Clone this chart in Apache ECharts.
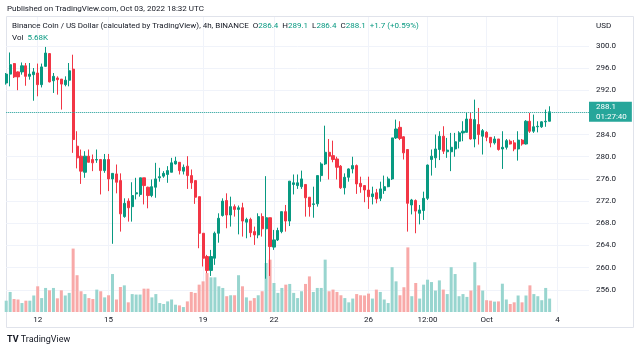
<!DOCTYPE html>
<html>
<head>
<meta charset="utf-8">
<script src="https://cdn.jsdelivr.net/npm/echarts@6.0.0/dist/echarts.min.js"></script>
<style>
  html, body { margin: 0; padding: 0; background: #ffffff; }
  #chart { width: 640px; height: 352px; }
</style>
</head>
<body>
<div id="chart"></div>
<script>
// BNB/USD 4h candles, Sep 10 16:00 -> Oct 03 16:00
const opens = [293.3,294.9,296.8,295.3,295.3,296.4,294.5,294.8,295.1,293.0,296.3,298.6,293.7,294.2,294.0,293.0,293.8,295.8,281.9,280.1,
  277.2,280.1,279.5,279.4,279.5,277.5,279.5,276.0,276.9,275.7,269.2,272.0,271.0,273.3,273.2,276.2,274.5,273.0,274.5,276.2,
  276.5,276.8,277.2,278.7,279.0,277.4,278.3,276.6,275.7,272.8,266.2,262.0,259.5,261.7,266.2,269.4,272.1,269.5,271.0,270.5,
  270.8,268.2,268.7,266.5,265.9,269.2,267.0,269.0,263.7,265.0,266.5,270.1,268.4,275.0,274.8,274.6,275.0,272.7,271.4,271.5,
  276.6,278.7,280.8,280.2,279.6,278.3,274.4,276.3,277.8,278.4,275.2,274.8,274.0,272.8,273.5,272.5,273.9,274.6,276.0,283.4,
  285.3,283.6,281.3,271.3,272.1,269.8,270.3,272.5,279.5,279.8,281.3,283.7,280.9,280.9,281.4,282.8,284.3,284.4,286.8,283.2,
  285.8,283.7,284.4,283.5,282.5,283.2,281.4,281.7,282.8,282.5,281.4,283.0,282.3,286.4,284.6,285.4,285.4,286.3,286.4];
const closes = [294.9,296.6,294.4,294.4,296.4,294.5,294.9,295.3,293.0,296.2,298.7,293.5,294.5,293.9,293.1,293.8,295.5,283.1,279.8,277.4,
  280.1,279.0,278.9,279.5,277.5,279.5,276.0,277.0,275.4,269.7,271.6,270.8,273.0,273.5,276.2,274.8,273.0,274.6,276.0,276.4,
  277.0,277.5,278.9,279.2,277.5,278.1,276.6,275.3,272.7,266.2,261.7,259.5,262.0,266.2,268.9,272.0,269.5,271.0,270.5,270.8,
  268.4,268.7,266.3,265.9,269.2,267.0,269.0,263.8,265.0,266.7,270.1,268.4,275.6,275.3,275.3,276.0,272.6,271.0,271.5,276.6,
  278.7,280.8,280.1,279.5,278.1,274.4,276.3,277.8,278.4,275.1,274.6,274.0,272.8,273.3,272.4,274.2,274.6,276.0,283.4,285.0,
  283.3,280.7,271.6,272.2,270.2,270.4,272.5,278.5,280.1,281.4,283.7,281.0,281.2,281.7,282.7,284.3,284.6,286.8,283.2,286.7,
  284.0,284.7,283.5,282.5,283.2,281.3,281.7,282.9,282.3,281.4,283.0,282.3,286.4,284.6,285.4,285.5,286.3,286.4,288.1];
const lows = [293.0,292.7,294.2,292.0,294.8,292.8,293.9,290.1,290.9,292.5,296.2,293.4,291.5,291.2,288.5,292.7,292.7,280.7,277.9,275.1,
  276.2,279.0,277.4,278.9,273.2,277.1,273.8,264.3,273.4,266.5,269.0,268.3,268.3,272.3,272.8,271.4,270.7,272.7,272.6,275.5,
  276.2,275.3,277.2,278.6,276.8,276.8,274.2,274.2,271.5,263.5,260.2,259.0,258.5,260.5,264.5,269.2,267.1,267.4,269.2,266.0,
  265.6,265.3,265.5,264.1,265.3,265.6,258.0,258.5,263.2,264.8,266.2,266.5,267.5,273.2,274.2,274.2,269.2,269.2,269.0,271.0,
  275.5,278.5,275.9,279.0,275.9,274.2,273.2,275.5,277.0,273.3,273.5,271.8,270.6,271.4,271.6,272.0,273.3,274.5,275.8,283.2,
  283.0,279.5,266.5,269.6,266.2,267.8,268.6,272.2,276.6,278.0,279.4,280.5,279.8,277.4,280.0,281.5,282.8,284.4,283.1,281.7,
  282.2,280.4,282.8,281.7,282.2,281.1,277.8,281.3,282.2,281.0,279.3,282.0,282.2,284.3,284.3,284.4,285.2,285.4,286.4];
const highs = [295.1,298.8,296.9,295.4,297.0,296.9,296.9,296.0,296.8,296.8,299.8,298.7,295.1,294.5,294.0,294.5,296.9,298.4,284.6,281.3,
  281.0,281.3,280.4,281.3,279.6,280.5,280.5,277.0,278.6,277.0,272.5,272.5,275.4,276.2,276.2,276.2,274.6,275.9,278.9,278.0,
  277.4,278.3,279.8,280.0,279.0,278.6,280.1,277.7,275.7,272.8,266.2,262.3,263.2,266.5,269.8,272.5,273.4,272.8,271.4,271.2,
  271.7,269.0,269.0,267.4,269.8,269.8,276.5,269.0,266.8,267.2,270.1,271.3,275.6,276.8,276.8,277.5,275.0,272.7,274.6,276.6,
  279.0,285.6,283.2,282.9,280.0,278.5,277.0,277.9,280.0,278.6,276.4,274.9,276.4,274.6,274.2,275.5,276.6,276.4,283.4,286.7,
  286.4,283.7,281.3,272.4,272.3,271.3,273.7,278.6,281.3,284.0,284.6,285.5,283.4,284.3,284.3,284.6,286.4,287.9,287.9,290.3,
  288.8,285.0,284.6,283.5,283.7,283.2,284.6,283.2,283.1,283.0,284.6,283.2,286.6,287.9,287.6,286.4,286.4,288.5,289.1];
// volume, thousands of BNB
const volumes = [4.8,8.5,5.5,5.3,3.8,4.8,4.8,7.0,10.9,5.9,10.2,9.2,10.2,5.8,9.2,7.0,8.1,26.9,15.6,8.8,
  7.6,5.9,5.5,9.5,8.8,6.2,7.1,16.1,5.3,10.6,11.3,4.1,7.6,7.4,7.4,9.9,9.9,6.2,7.6,3.8,
  3.4,4.5,5.3,3.1,2.8,2.1,4.5,8.5,8.1,11.6,13.0,16.5,14.7,14.7,10.9,10.2,6.7,7.1,7.1,15.6,
  10.9,6.2,4.8,5.9,7.1,8.8,20.8,22.2,12.3,8.1,10.2,11.6,11.9,8.1,5.9,8.8,11.9,15.1,8.5,10.2,
  10.2,22.2,8.8,9.5,8.5,7.1,5.9,4.1,5.7,7.6,7.1,7.0,7.8,5.7,9.5,8.5,5.3,3.8,19.0,13.0,
  7.1,10.5,27.4,6.7,12.3,5.7,11.6,13.7,12.7,9.1,13.4,9.5,7.6,19.0,16.1,6.7,7.6,6.4,9.1,21.1,
  11.3,9.1,5.0,4.8,4.4,4.5,12.0,5.3,3.4,4.1,7.0,4.1,7.0,11.3,7.6,6.7,5.0,10.2,5.68];

// time axis labels and the candle index they sit on
const dayLabels = ['12', '15', '19', '22', '26', '12:00', 'Oct', '4'];
const dayIndex = [8, 26, 50, 68, 92, 107, 122, 140];
const slotCount = 149; // 139 candles + empty space on the right
const priceTicks = [300, 296, 292, 284, 280, 276, 272, 268, 264, 260, 256];

const lastPrice = 288.1;
const lastVol = 5.68;

const UP = '#089981';
const DOWN = '#f23645';
const FONT = 'Roboto, "DejaVu Sans", sans-serif';
const TXT = '#131722';
const FS = 8;
const GRID = '#f0f3fa';

let categories = [];
for (let i = 0; i < slotCount; i++) {
  let k = dayIndex.indexOf(i);
  categories.push(k >= 0 ? dayLabels[k] : '');
}

// split lines: 252 (bottom edge), 256 ... 300, then 304 and top edge are left out
let splitColors = [];
for (let v = 252; v <= 304; v += 4) {
  splitColors.push(v === 252 || v === 304 ? 'rgba(0,0,0,0)' : GRID);
}
splitColors.push('rgba(0,0,0,0)');

let candles = opens.map((o, i) => [o, closes[i], lows[i], highs[i]]);
let volBars = volumes.map((v, i) => ({
  value: v,
  itemStyle: { color: closes[i] >= opens[i] ? '#98d5cf' : '#f8a9a8' },
}));

let myChart = echarts.init(document.getElementById('chart'));
myChart.setOption({
  animation: false,
  textStyle: { fontFamily: FONT },
  grid: { left: 6.2, right: 51, top: 17, height: 295 },
  xAxis: {
    type: 'category',
    data: categories,
    boundaryGap: false,
    axisLine: { show: false },
    axisTick: { show: false },
    axisLabel: {
      interval: (i, v) => v !== '',
      color: TXT,
      fontSize: FS,
      margin: 4,
    },
    splitLine: {
      show: true,
      interval: (i, v) => v !== '',
      lineStyle: { color: GRID, width: 1 },
    },
  },
  yAxis: [
    {
      type: 'value',
      position: 'right',
      min: 252,
      max: 305.2,
      interval: 4,
      axisLine: { show: false },
      axisTick: { show: false },
      axisLabel: {
        color: TXT,
        fontSize: FS,
        margin: 7,
        formatter: (v) => (priceTicks.indexOf(v) >= 0 ? v.toFixed(1) : ''),
      },
      splitLine: { lineStyle: { color: splitColors, width: 1 } },
    },
    {
      type: 'value',
      min: 0,
      max: 125.1,
      show: false,
      splitLine: { show: false },
    },
  ],
  series: [
    {
      name: 'Vol',
      type: 'bar',
      yAxisIndex: 1,
      barWidth: 3,
      data: volBars,
      markLine: {
        silent: true,
        symbol: ['none', 'none'],
        lineStyle: { opacity: 0 },
        label: {
          position: 'end',
          distance: 0,
          formatter: lastVol.toFixed(2) + 'K',
          color: '#ffffff',
          backgroundColor: '#26a69a',
          fontSize: FS,
          lineHeight: 9,
          padding: [1, 6, 0, 7],
        },
        data: [{ yAxis: lastVol }],
      },
    },
    {
      name: 'BNBUSD',
      type: 'candlestick',
      barWidth: 2.6,
      data: candles,
      itemStyle: {
        color: UP,
        color0: DOWN,
        borderColor: UP,
        borderColor0: DOWN,
        borderWidth: 1,
      },
      markLine: {
        silent: true,
        symbol: ['none', 'none'],
        lineStyle: { color: '#26a69a', type: 'dotted', width: 1 },
        label: {
          position: 'end',
          distance: 0,
          formatter: lastPrice.toFixed(1) + '\n01:27:40',
          color: '#ffffff',
          backgroundColor: '#26a69a',
          fontSize: FS,
          lineHeight: 9.5,
          align: 'left',
          padding: [1, 5, 0, 7],
        },
        data: [{ yAxis: lastPrice }],
      },
    },
  ],
  graphic: [
    {
      type: 'rect',
      silent: true,
      shape: { x: 6.5, y: 16.5, width: 627, height: 311 },
      style: { fill: 'none', stroke: '#e0e3eb', lineWidth: 1 },
    },
    {
      type: 'text',
      left: 7,
      top: 5,
      style: { text: 'Published on TradingView.com, Oct 03, 2022 18:32 UTC', fill: TXT, font: FS + 'px ' + FONT },
    },
    {
      type: 'text',
      left: 12,
      top: 22,
      z: 10,
      style: {
        text: 'Binance Coin / US Dollar (calculated by TradingView), 4h, BINANCE  O{n|286.4}  H{n|289.1}  L{n|286.4}  C{n|288.1}  {n|+1.7 (+0.59%)}',
        fill: TXT,
        font: FS + 'px ' + FONT,
        rich: { n: { fill: UP, font: FS + 'px ' + FONT } },
      },
    },
    {
      type: 'text',
      left: 12,
      top: 34,
      z: 10,
      style: {
        text: 'Vol  {n|5.68K}',
        fill: TXT,
        font: FS + 'px ' + FONT,
        rich: { n: { fill: UP, font: FS + 'px ' + FONT } },
      },
    },
    {
      type: 'text',
      left: 596,
      top: 22,
      style: { text: 'USD', fill: TXT, font: FS + 'px ' + FONT },
    },
    {
      type: 'text',
      left: 7,
      top: 335,
      style: {
        text: '{b|TV} TradingView',
        fill: TXT,
        font: '9px ' + FONT,
        rich: { b: { fill: TXT, font: 'bold 9px ' + FONT } },
      },
    },
  ],
});
</script>
</body>
</html>
